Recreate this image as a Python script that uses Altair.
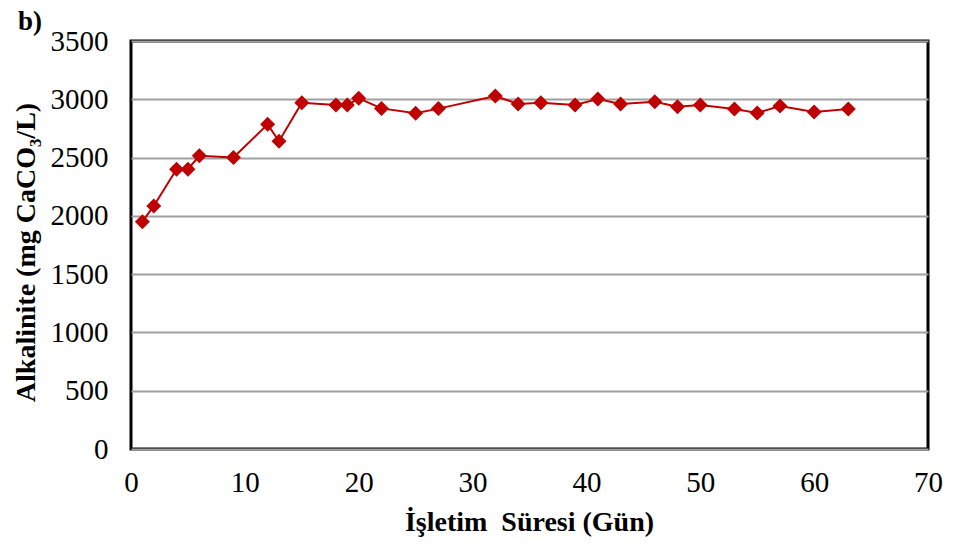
import altair as alt
import pandas as pd

days = [1, 2, 4, 5, 6, 9, 12, 13, 15, 18, 19, 20, 22, 25, 27, 32, 34, 36, 39, 41, 43, 46, 48, 50, 53, 55, 57, 60, 63]
alk = [1950, 2085, 2400, 2400, 2515, 2500, 2785, 2640, 2970, 2950, 2950, 3008, 2922, 2880, 2920,
       3028, 2960, 2970, 2951, 3003, 2960, 2978, 2937, 2951, 2917, 2883, 2943, 2891, 2917]

df = pd.DataFrame({"Gün": days, "Alkalinite": alk})

FONT = "Liberation Serif"
RED = "#C00000"

x = alt.X("Gün:Q",
          scale=alt.Scale(domain=[0, 70], nice=False),
          axis=alt.Axis(values=list(range(0, 71, 10)), title="İşletim\u00a0 Süresi (Gün)",
                        format="d", labelFlush=False,
                        grid=False, ticks=False, domain=False,
                        labelFont=FONT, labelFontSize=29, labelColor="black", labelPadding=19,
                        titleFont=FONT, titleFontSize=28, titleFontWeight="bold", titleColor="black",
                        titleX=398, titleY=73, titleBaseline="middle", titleAnchor="middle"))
y = alt.Y("Alkalinite:Q",
          scale=alt.Scale(domain=[0, 3500], nice=False),
          axis=alt.Axis(values=list(range(0, 3501, 500)), title="Alkalinite (mg CaCO₃/L)",
                        format="d", labelFlush=False,
                        grid=True, gridColor="#A0A0A0", gridWidth=2, ticks=False, domain=False,
                        labelFont=FONT, labelFontSize=29, labelColor="black", labelPadding=23,
                        titleFont=FONT, titleFontSize=28, titleFontWeight="bold", titleColor="black",
                        titleX=-105, titleY=211, titleAngle=-90, titleBaseline="middle",
                        titleAnchor="middle"))

line = alt.Chart(df).mark_line(color=RED, strokeWidth=2).encode(x=x, y=y)
pts = alt.Chart(df).mark_point(shape="diamond", filled=True, color=RED, size=225, opacity=1).encode(x=x, y=y)

label = alt.Chart(pd.DataFrame({"t": ["b)"]})).mark_text(
    font=FONT, fontSize=27, fontWeight="bold", color="black", align="center", baseline="middle"
).encode(text="t:N", x=alt.value(-101), y=alt.value(-19))

chart = alt.layer(line, pts, label).properties(
    width=797, height=408,
    autosize=alt.AutoSizeParams(type="none"),
    padding={"left": 123, "top": 33, "right": 17, "bottom": 89},
    background="white",
).configure_view(stroke="black", strokeWidth=3)

chart.save("out.html", embed_options={"renderer": "svg", "actions": False})
